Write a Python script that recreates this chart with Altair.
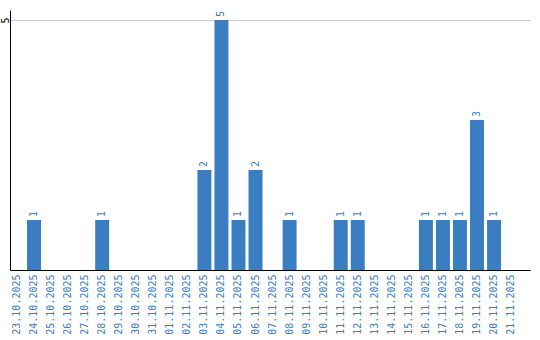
import altair as alt
import pandas as pd

dates = ["23.10.2025","24.10.2025","25.10.2025","26.10.2025","27.10.2025","28.10.2025",
         "29.10.2025","30.10.2025","31.10.2025","01.11.2025","02.11.2025","03.11.2025",
         "04.11.2025","05.11.2025","06.11.2025","07.11.2025","08.11.2025","09.11.2025",
         "10.11.2025","11.11.2025","12.11.2025","13.11.2025","14.11.2025","15.11.2025",
         "16.11.2025","17.11.2025","18.11.2025","19.11.2025","20.11.2025","21.11.2025"]
counts = [0,1,0,0,0,1,0,0,0,0,0,2,5,1,2,0,1,0,0,1,1,0,0,0,1,1,1,3,1,0]

df = pd.DataFrame({"date": dates, "count": counts})
df["label"] = [str(c) if c > 0 else "" for c in counts]

FONT = "DejaVu Sans Mono"
BLUE = "#3b7dc1"

x = alt.X("date:N", sort=dates, title=None,
          scale=alt.Scale(paddingInner=0.18, paddingOuter=0.35, align=0),
          axis=alt.Axis(labelAngle=270, labelColor=BLUE, labelFont=FONT, labelFontSize=10,
                        ticks=False, domainColor="black", labelPadding=4, labelAlign="right",
                        labelBaseline="middle"))
y = alt.Y("count:Q", title=None,
          scale=alt.Scale(domain=[0, 5.2], nice=False),
          axis=alt.Axis(values=[5], labelAngle=270, labelFont=FONT, labelFontSize=10,
                        labelColor="black", ticks=False, domainColor="black",
                        gridColor="#cccccc", labelPadding=0, labelAlign="center",
                        labelBaseline="bottom"))

base = alt.Chart(df)
bars = base.mark_bar(color=BLUE).encode(x=x, y=y)
text = base.mark_text(angle=270, align="left", baseline="middle", dx=3, color=BLUE,
                      font=FONT, fontSize=10).encode(
    x=alt.X("date:N", sort=dates), y="count:Q", text="label:N")

chart = (bars + text).properties(
    width=520, height=260,
    padding={"left": 0, "top": 10, "right": 10, "bottom": 0},
    background="white",
).configure_view(stroke=None)
chart.save("out.html", embed_options={"renderer": "svg", "actions": False})
